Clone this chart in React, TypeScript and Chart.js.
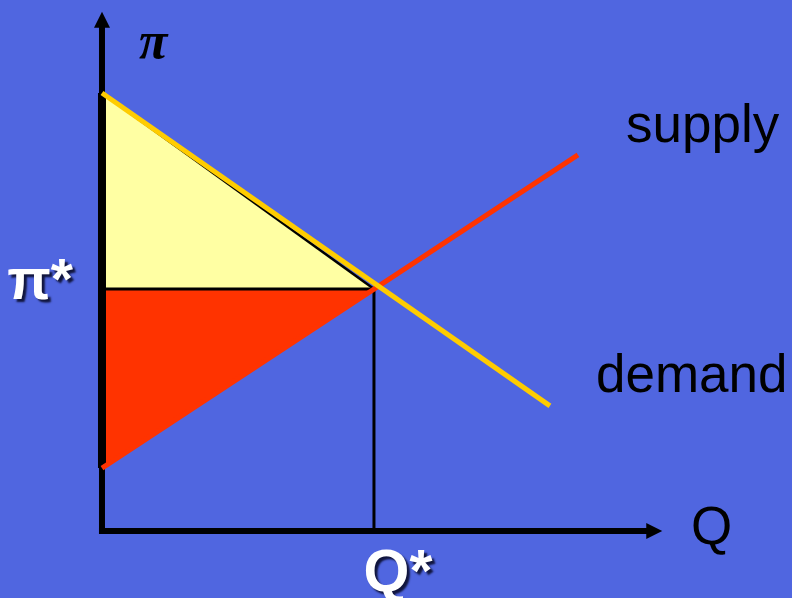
import React, { useEffect, useRef } from "react";
import { Chart, registerables } from "chart.js";

Chart.register(...registerables);

// Economic data (quantity Q, price π), equilibrium at Q* = 10, π* = 10
const demandQ = [0, 16.47];
const demandP = [18.1, 5.17];
const supplyQ = [0, 17.5];
const supplyP = [2.6, 15.54];
const eqQ = 10;
const eqP = 10;
const xAxisEnd = 20.6;
const yAxisEnd = 21.45;

const labelSupply = "supply";
const labelDemand = "demand";
const labelQ = "Q";
const labelPi = "π";
const labelPiStar = "π*";
const labelQStar = "Q*";

const BG = "#5066E0";
const LIGHT_YELLOW = "#FFFFA3";
const RED = "#FF3300";
const GOLD = "#FFCC00";

const pts = (xs: number[], ys: number[]) => xs.map((x, i) => ({ x, y: ys[i] }));

export default function App() {
  const ref = useRef<HTMLCanvasElement | null>(null);

  useEffect(() => {
    document.body.style.margin = "0";
    document.body.style.background = BG;
    const canvas = ref.current!;
    const decor = {
      id: "decor",
      beforeDraw(chart: any) {
        const { ctx, width, height } = chart;
        ctx.save();
        ctx.fillStyle = BG;
        ctx.fillRect(0, 0, width, height);
        ctx.restore();
      },
      beforeDatasetsDraw(chart: any) {
        const { ctx } = chart;
        const xs = chart.scales.x;
        const ys = chart.scales.y;
        const x0 = xs.getPixelForValue(0);
        const y0 = ys.getPixelForValue(0);
        const xEnd = xs.getPixelForValue(xAxisEnd);
        const yEnd = ys.getPixelForValue(yAxisEnd);
        ctx.save();
        ctx.strokeStyle = "#000";
        ctx.fillStyle = "#000";
        ctx.lineWidth = 6;
        // vertical axis
        ctx.beginPath();
        ctx.moveTo(x0, y0 + 3);
        ctx.lineTo(x0, yEnd + 14);
        ctx.stroke();
        ctx.beginPath();
        ctx.moveTo(x0, yEnd);
        ctx.lineTo(x0 - 8, yEnd + 16);
        ctx.lineTo(x0 + 8, yEnd + 16);
        ctx.closePath();
        ctx.fill();
        // horizontal axis
        ctx.beginPath();
        ctx.moveTo(x0 - 3, y0);
        ctx.lineTo(xEnd - 14, y0);
        ctx.stroke();
        ctx.beginPath();
        ctx.moveTo(xEnd, y0);
        ctx.lineTo(xEnd - 16, y0 - 8);
        ctx.lineTo(xEnd - 16, y0 + 8);
        ctx.closePath();
        ctx.fill();
        ctx.restore();
      },
      afterDraw(chart: any) {
        const { ctx } = chart;
        const xs = chart.scales.x;
        const ys = chart.scales.y;
        const x0 = xs.getPixelForValue(0);
        const y0 = ys.getPixelForValue(0);
        ctx.save();
        ctx.textBaseline = "alphabetic";
        ctx.fillStyle = "#000";
        ctx.font = '53px "Liberation Sans", Arial, sans-serif';
        ctx.textAlign = "left";
        ctx.fillText(labelSupply, 626, 142);
        ctx.fillText(labelDemand, 596, 392);
        ctx.fillText(labelQ, 691, y0 + 13);
        ctx.font = 'italic bold 52px "Liberation Serif", "Times New Roman", serif';
        ctx.fillText(labelPi, x0 + 37, 58);
        // white bold labels with shadow
        ctx.shadowColor = "rgba(0,0,20,0.8)";
        ctx.shadowOffsetX = 3;
        ctx.shadowOffsetY = 3;
        ctx.shadowBlur = 2;
        ctx.fillStyle = "#fff";
        ctx.font = 'bold 57px "Liberation Sans", Arial, sans-serif';
        ctx.textAlign = "right";
        ctx.fillText(labelPiStar, x0 - 29, ys.getPixelForValue(eqP) + 10);
        ctx.textAlign = "center";
        ctx.font = 'bold 59px "Liberation Sans", Arial, sans-serif';
        ctx.fillText(labelQStar, xs.getPixelForValue(eqQ) + 24, y0 + 60);
        ctx.restore();
      },
    };

    const line = (data: any[], color: string, width: number, extra: any = {}) => ({
      data,
      showLine: true,
      borderColor: color,
      borderWidth: width,
      pointRadius: 0,
      pointHoverRadius: 0,
      fill: false,
      ...extra,
    });

    const chart = new Chart(canvas, {
      type: "scatter",
      data: {
        datasets: [
          line(pts(demandQ, demandP), GOLD, 5),
          line(pts(supplyQ, supplyP), RED, 5),
          line([{ x: 0, y: demandP[0] }, { x: eqQ, y: eqP }], "#000", 2.5),
          line([{ x: 0, y: eqP }, { x: eqQ, y: eqP }], "#000", 3),
          line([{ x: eqQ, y: eqP }, { x: eqQ, y: 0 }], "#000", 3),
          line([{ x: 0, y: demandP[0] }, { x: 0, y: supplyP[0] }], "#000", 8),
          line([{ x: 0, y: demandP[0] }, { x: eqQ, y: eqP }], LIGHT_YELLOW, 0, {
            fill: { value: eqP },
            backgroundColor: LIGHT_YELLOW,
          }),
          line([{ x: 0, y: supplyP[0] }, { x: eqQ, y: eqP }], RED, 0, {
            fill: { value: eqP },
            backgroundColor: RED,
          }),
        ],
      },
      options: {
        animation: false,
        responsive: false,
        devicePixelRatio: 1,
        layout: { padding: 0 },
        plugins: {
          legend: { display: false },
          tooltip: { enabled: false },
          title: { display: false },
        },
        events: [],
        scales: {
          x: { type: "linear", min: -3.75, max: 25.37, display: false },
          y: { type: "linear", min: -2.77, max: 21.94, display: false },
        },
      },
      plugins: [decor],
    } as any);
    return () => chart.destroy();
  }, []);

  return (
    <div style={{ width: 792, height: 598, background: BG }}>
      <canvas ref={ref} width={792} height={598} style={{ display: "block" }} />
    </div>
  );
}
